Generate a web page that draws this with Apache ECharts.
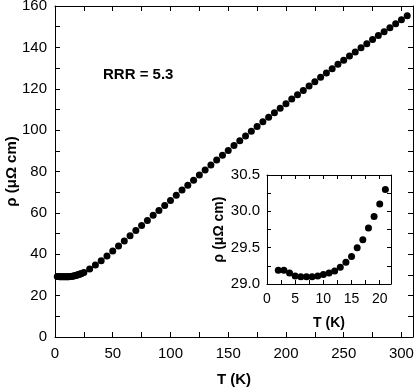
<!DOCTYPE html>
<html>
<head>
<meta charset="utf-8">
<script src="https://cdn.jsdelivr.net/npm/echarts@6/dist/echarts.min.js"></script>
<style>
    html, body {margin: 0; padding: 0; background: #fff;}
    #chart {width: 415px; height: 388px;}
</style>
</head>
<body>
<div id="chart"></div>
<script>
// low temperature points (also shown in the inset)
let lowT = [2, 3, 4, 5, 6, 7, 8, 9, 10, 11, 12, 13, 14, 15, 16, 17, 18, 19, 20, 21];
let lowRho = [29.19, 29.19, 29.15, 29.11, 29.10, 29.10, 29.10, 29.11, 29.13, 29.15, 29.18, 29.23, 29.30, 29.38, 29.50, 29.61, 29.77, 29.93, 30.10, 30.30];

// rest of the curve
let highT = [22, 23, 25, 30, 35, 40, 45, 50, 55, 60, 65, 70, 75, 80, 85, 90, 95, 100, 105, 110, 115, 120,
    125, 130, 135, 140, 145, 150, 155, 160, 165, 170, 175, 180, 185, 190, 195, 200, 205, 210, 215, 220,
    225, 230, 235, 240, 245, 250, 255, 260, 265, 270, 275, 280, 285, 290, 295, 300, 305];
let highRho = [30.5, 30.7, 31.2, 32.9, 34.8, 36.9, 39.2, 41.6, 44.0, 46.4, 49.0, 51.5, 53.9, 56.3, 58.8, 61.2, 63.6, 66.0, 68.5, 71.0, 73.4, 75.8,
    78.3, 80.7, 83.1, 85.5, 87.9, 90.2, 92.6, 94.9, 97.2, 99.5, 101.8, 104.0, 106.2, 108.4, 110.6, 112.8, 115.0, 117.1, 119.2, 121.3,
    123.4, 125.5, 127.6, 129.7, 131.8, 133.8, 135.8, 137.8, 139.8, 141.8, 143.8, 145.7, 147.6, 149.5, 151.4, 153.3, 155.3];

let mainXLabels = [0, 50, 100, 150, 200, 250, 300];
let mainYLabels = [0, 20, 40, 60, 80, 100, 120, 140, 160];
let insetXLabels = [0, 5, 10, 15, 20];
let insetYLabels = ['29.0', '29.5', '30.0', '30.5'];

let font = 'Liberation Sans, Arial, Helvetica, sans-serif';

let mainData = [];
lowT.forEach(function (t, i) {
    mainData.push([t, lowRho[i]]);
});
highT.forEach(function (t, i) {
    mainData.push([t, highRho[i]]);
});
let insetData = lowT.map(function (t, i) {
    return [t, lowRho[i]];
});

// only print the labelled ticks, the others stay bare
function labelIn(list) {
    return function (v) {
        for (let i = 0; i < list.length; i++) {
            if (Math.abs(Number(list[i]) - v) < 1e-6) {
                return String(list[i]);
            }
        }
        return '';
    };
}

function axis(extra) {
    let base = {
        type: 'value',
        nameMoveOverlap: false,
        axisLine: {show: true, onZero: false, lineStyle: {color: '#000', width: 1}},
        axisTick: {show: true, inside: true, length: 5, lineStyle: {color: '#000', width: 1}},
        splitLine: {show: false},
        axisLabel: {show: false}
    };
    return Object.assign(base, extra);
}

let insetTick = {show: true, inside: true, length: 4, lineStyle: {color: '#000', width: 1}};
let labelStyle = {color: '#000', fontFamily: font, fontSize: 15};
let nameStyle = {color: '#000', fontFamily: font, fontSize: 15, fontWeight: 'bold'};

let option = {
    animation: false,
    grid: [
        {left: 55, right: 2, top: 6, bottom: 51, outerBoundsMode: 'none', containLabel: false},
        {left: 267, top: 175, width: 124, height: 109, outerBoundsMode: 'none', containLabel: false}
    ],
    xAxis: [
        axis({gridIndex: 0, min: 0, max: 310, interval: 25, position: 'bottom',
            name: 'T (K)', nameLocation: 'middle', nameGap: 35, nameTextStyle: nameStyle,
            axisLabel: Object.assign({show: true, margin: 9, formatter: labelIn(mainXLabels)}, labelStyle)}),
        axis({gridIndex: 0, min: 0, max: 310, interval: 25, position: 'top'}),
        axis({gridIndex: 1, min: 0, max: 22, interval: 2.5, position: 'bottom', axisTick: insetTick,
            name: 'T (K)', nameLocation: 'middle', nameGap: 32, nameTextStyle: Object.assign({}, nameStyle, {fontSize: 14}),
            axisLabel: Object.assign({show: true, margin: 8, formatter: labelIn(insetXLabels)}, labelStyle, {fontSize: 14})}),
        axis({gridIndex: 1, min: 0, max: 22, interval: 2.5, position: 'top', axisTick: insetTick})
    ],
    yAxis: [
        axis({gridIndex: 0, min: 0, max: 160, interval: 10, position: 'left',
            name: 'ρ (μΩ cm)', nameLocation: 'middle', nameGap: 36, nameTextStyle: nameStyle,
            axisLabel: Object.assign({show: true, margin: 8, formatter: labelIn(mainYLabels)}, labelStyle)}),
        axis({gridIndex: 0, min: 0, max: 160, interval: 10, position: 'right'}),
        axis({gridIndex: 1, min: 29, max: 30.5, interval: 0.25, position: 'left', axisTick: insetTick,
            name: 'ρ (μΩ cm)', nameLocation: 'middle', nameGap: 41, nameTextStyle: Object.assign({}, nameStyle, {fontSize: 14}),
            axisLabel: Object.assign({show: true, margin: 7, formatter: labelIn(insetYLabels)}, labelStyle)}),
        axis({gridIndex: 1, min: 29, max: 30.5, interval: 0.25, position: 'right', axisTick: insetTick})
    ],
    graphic: [
        {
            type: 'text', left: 103, top: 67,
            style: {text: 'RRR = 5.3', fill: '#000', font: 'bold 15px ' + font}
        }
    ],
    series: [
        {
            type: 'scatter', xAxisIndex: 0, yAxisIndex: 0,
            symbol: 'circle', symbolSize: 7,
            itemStyle: {color: '#000', opacity: 1},
            data: mainData
        },
        {
            type: 'scatter', xAxisIndex: 2, yAxisIndex: 2,
            symbol: 'circle', symbolSize: 7,
            itemStyle: {color: '#000', opacity: 1},
            data: insetData
        }
    ]
};

let chart = echarts.init(document.getElementById('chart'));
chart.setOption(option);
</script>
</body>
</html>
